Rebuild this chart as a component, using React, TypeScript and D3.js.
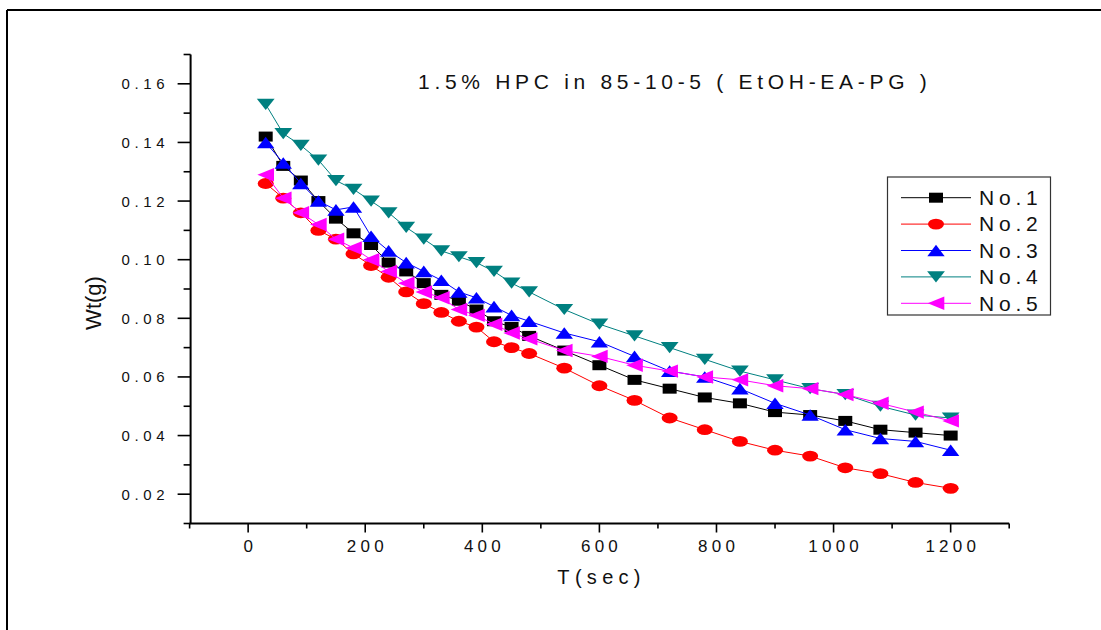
import React from 'react';
import * as d3 from 'd3';

const times = [30, 60, 90, 120, 150, 180, 210, 240, 270, 300, 330, 360, 390, 420, 450, 480, 540, 600, 660, 720, 780, 840, 900, 960, 1020, 1080, 1140, 1200];
const no1 = [0.142, 0.132, 0.127, 0.120, 0.114, 0.109, 0.105, 0.099, 0.096, 0.092, 0.088, 0.086, 0.083, 0.079, 0.077, 0.074, 0.069, 0.064, 0.059, 0.056, 0.053, 0.051, 0.048, 0.047, 0.045, 0.042, 0.041, 0.040];
const no2 = [0.126, 0.121, 0.116, 0.110, 0.107, 0.102, 0.098, 0.094, 0.089, 0.085, 0.082, 0.079, 0.077, 0.072, 0.070, 0.068, 0.063, 0.057, 0.052, 0.046, 0.042, 0.038, 0.035, 0.033, 0.029, 0.027, 0.024, 0.022];
const no3 = [0.140, 0.133, 0.126, 0.120, 0.117, 0.118, 0.108, 0.103, 0.099, 0.096, 0.093, 0.089, 0.087, 0.084, 0.081, 0.079, 0.075, 0.072, 0.067, 0.062, 0.060, 0.056, 0.051, 0.047, 0.042, 0.039, 0.038, 0.035];
const no4 = [0.153, 0.143, 0.139, 0.134, 0.127, 0.124, 0.120, 0.116, 0.111, 0.107, 0.103, 0.101, 0.099, 0.096, 0.092, 0.089, 0.083, 0.078, 0.074, 0.070, 0.066, 0.062, 0.059, 0.056, 0.054, 0.050, 0.047, 0.046];
const no5 = [0.129, 0.121, 0.116, 0.112, 0.107, 0.104, 0.100, 0.096, 0.092, 0.089, 0.087, 0.083, 0.081, 0.078, 0.075, 0.073, 0.069, 0.067, 0.064, 0.062, 0.060, 0.059, 0.057, 0.056, 0.054, 0.051, 0.048, 0.045];

const seriesNames = ['No.1', 'No.2', 'No.3', 'No.4', 'No.5'];
const seriesValues = [no1, no2, no3, no4, no5];
const seriesColors = ['#000000', '#FF0000', '#0000FF', '#008080', '#FF00FF'];
const seriesShapes = ['square', 'circle', 'up', 'down', 'left'];

const xMajorTicks = [0, 200, 400, 600, 800, 1000, 1200];
const xMinorTicks = [-100, 100, 300, 500, 700, 900, 1100, 1300];
const yMajorTicks = [0.02, 0.04, 0.06, 0.08, 0.10, 0.12, 0.14, 0.16];
const yMinorTicks = [0.01, 0.03, 0.05, 0.07, 0.09, 0.11, 0.13, 0.15, 0.17];

const titleText = '1.5% HPC in 85-10-5 ( EtOH-EA-PG )';
const xTitle = 'T(sec)';
const yTitle = 'Wt(g)';

const FONT = '"Liberation Sans", Arial, Helvetica, sans-serif';

function markerPath(shape: string, x: number, y: number): string {
  switch (shape) {
    case 'square':
      return `M${x - 7},${y - 5}h14v10h-14Z`;
    case 'circle': {
      const rx = 8, ry = 5.4;
      return `M${x - rx},${y}a${rx},${ry} 0 1,0 ${2 * rx},0a${rx},${ry} 0 1,0 ${-2 * rx},0Z`;
    }
    case 'up':
      return `M${x},${y - 5.8}L${x + 8.7},${y + 5.8}L${x - 8.7},${y + 5.8}Z`;
    case 'down':
      return `M${x},${y + 5.6}L${x + 8.9},${y - 5.6}L${x - 8.9},${y - 5.6}Z`;
    case 'left':
      return `M${x - 8.3},${y}L${x + 8.3},${y - 6.7}L${x + 8.3},${y + 6.7}Z`;
    default:
      return '';
  }
}

export default function App() {
  const x = d3.scaleLinear().domain([-100, 1300]).range([189.6, 1009.2]);
  const y = d3.scaleLinear().domain([0.01, 0.17]).range([523.5, 54.5]);
  const axisX = x(-100);
  const axisY = y(0.01);

  const line = d3
    .line<[number, number]>()
    .x((d) => x(d[0]))
    .y((d) => y(d[1]));

  const yLs = 4.6;
  const xLs = 4.2;
  const legendRows = seriesNames.map((_, i) => 197.7 + i * 26.4);

  return (
    <svg
      width={1101}
      height={630}
      style={{ position: 'absolute', left: 0, top: 0, background: '#fff' }}
      fontFamily={FONT}
    >
      <rect x={0} y={0} width={1101} height={630} fill="#fff" />
      {/* outer frame */}
      <line x1={7} y1={10} x2={1101} y2={10} stroke="#000" strokeWidth={2} />
      <line x1={7} y1={10} x2={7} y2={630} stroke="#000" strokeWidth={2} />

      {/* axes */}
      <line x1={axisX + 1} y1={y(0.17)} x2={axisX + 1} y2={axisY} stroke="#000" strokeWidth={2} />
      <line x1={axisX} y1={axisY} x2={x(1300)} y2={axisY} stroke="#000" strokeWidth={2} />

      {yMajorTicks.map((t) => (
        <g key={'ym' + t}>
          <line x1={axisX + 1 - 13} x2={axisX + 1} y1={y(t)} y2={y(t)} stroke="#000" strokeWidth={1.6} />
          <text
            x={164.5 + yLs}
            y={y(t) + 5.5}
            textAnchor="end"
            fontSize={15}
            letterSpacing={yLs}
            fill="#111"
          >
            {t.toFixed(2)}
          </text>
        </g>
      ))}
      {yMinorTicks.map((t) => (
        <line key={'yn' + t} x1={axisX + 1 - 7} x2={axisX + 1} y1={y(t)} y2={y(t)} stroke="#000" strokeWidth={1.6} />
      ))}
      {xMajorTicks.map((t) => (
        <g key={'xm' + t}>
          <line x1={x(t)} x2={x(t)} y1={axisY} y2={axisY + 9} stroke="#000" strokeWidth={1.6} />
          <text
            x={x(t) + xLs / 2}
            y={551.7}
            textAnchor="middle"
            fontSize={17}
            letterSpacing={xLs}
            fill="#111"
          >
            {String(t)}
          </text>
        </g>
      ))}
      {xMinorTicks.map((t) => (
        <line key={'xn' + t} x1={x(t)} x2={x(t)} y1={axisY} y2={axisY + 5} stroke="#000" strokeWidth={1.6} />
      ))}

      {/* titles */}
      <text x={418} y={89} fontSize={21} letterSpacing={4.7} fill="#111">
        {titleText}
      </text>
      <text x={599 + 2.6} y={584} textAnchor="middle" fontSize={20} letterSpacing={5.3} fill="#111">
        {xTitle}
      </text>
      <text
        transform={`translate(101,303) rotate(-90)`}
        textAnchor="middle"
        fontSize={22}
        fill="#111"
      >
        {yTitle}
      </text>

      {/* series */}
      {seriesValues.map((vals, si) => {
        const pts: [number, number][] = times.map((t, i) => [t, vals[i]]);
        return (
          <g key={'s' + si}>
            <path d={line(pts) || ''} fill="none" stroke={seriesColors[si]} strokeWidth={1} />
            {pts.map((p, i) => (
              <path key={i} d={markerPath(seriesShapes[si], x(p[0]), y(p[1]))} fill={seriesColors[si]} />
            ))}
          </g>
        );
      })}

      {/* legend */}
      <rect x={887.5} y={177} width={163} height={138} fill="#fff" stroke="#333" strokeWidth={1.2} />
      {seriesNames.map((name, i) => (
        <g key={'l' + i}>
          <line x1={901} x2={971} y1={legendRows[i]} y2={legendRows[i]} stroke={seriesColors[i]} strokeWidth={1} />
          <path d={markerPath(seriesShapes[i], 936, legendRows[i])} fill={seriesColors[i]} />
          <text x={979} y={legendRows[i] + 7.3} fontSize={21} letterSpacing={4.8} fill="#111">
            {name}
          </text>
        </g>
      ))}
    </svg>
  );
}
